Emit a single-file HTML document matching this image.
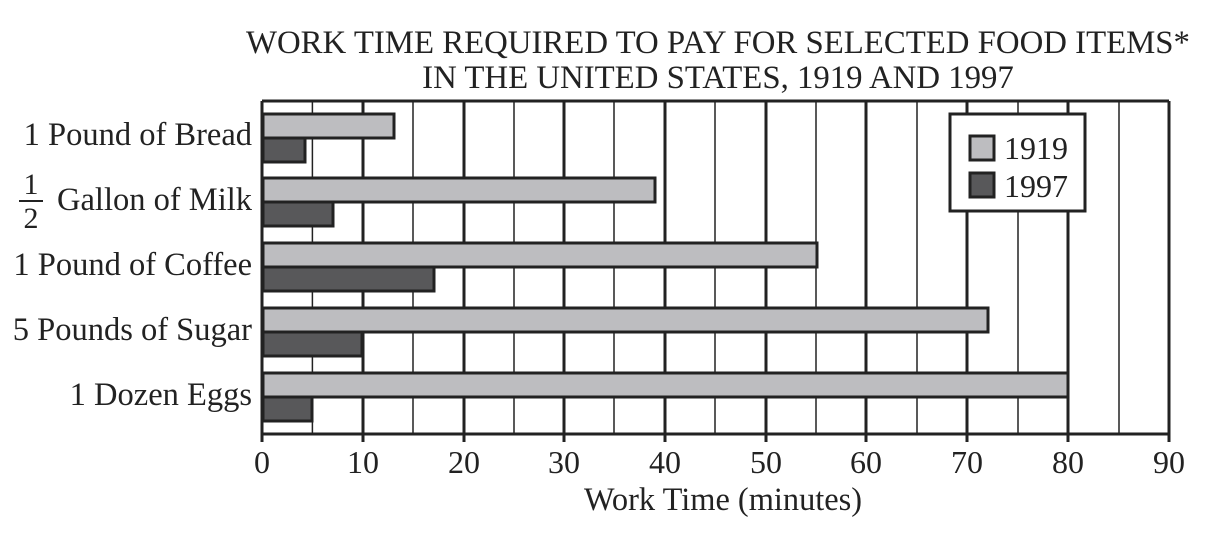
<!DOCTYPE html>
<html><head><meta charset="utf-8"><style>
body{margin:0;background:#fff;}
svg text{font-family:"Liberation Serif",serif;fill:#222;}
</style></head><body>
<svg width="1222" height="546" viewBox="0 0 1222 546" xmlns="http://www.w3.org/2000/svg">
<text x="718" y="53" font-size="32.8" text-anchor="middle">WORK TIME REQUIRED TO PAY FOR SELECTED FOOD ITEMS*</text>
<text x="718" y="88" font-size="32.8" text-anchor="middle">IN THE UNITED STATES, 1919 AND 1997</text>
<g stroke="#222">
<line x1="312.4" y1="101" x2="312.4" y2="434" stroke-width="1.5"/>
<line x1="413" y1="101" x2="413" y2="434" stroke-width="1.5"/>
<line x1="514" y1="101" x2="514" y2="434" stroke-width="1.5"/>
<line x1="614" y1="101" x2="614" y2="434" stroke-width="1.5"/>
<line x1="715" y1="101" x2="715" y2="434" stroke-width="1.5"/>
<line x1="816" y1="101" x2="816" y2="434" stroke-width="1.5"/>
<line x1="917" y1="101" x2="917" y2="434" stroke-width="1.5"/>
<line x1="1018" y1="101" x2="1018" y2="434" stroke-width="1.5"/>
<line x1="1119" y1="101" x2="1119" y2="434" stroke-width="1.5"/>
<line x1="363" y1="101" x2="363" y2="442" stroke-width="3"/>
<line x1="464" y1="101" x2="464" y2="442" stroke-width="3"/>
<line x1="564" y1="101" x2="564" y2="442" stroke-width="3"/>
<line x1="665" y1="101" x2="665" y2="442" stroke-width="3"/>
<line x1="766" y1="101" x2="766" y2="442" stroke-width="3"/>
<line x1="866" y1="101" x2="866" y2="442" stroke-width="3"/>
<line x1="967" y1="101" x2="967" y2="442" stroke-width="3"/>
<line x1="1068" y1="101" x2="1068" y2="442" stroke-width="3"/>
<line x1="1169" y1="101" x2="1169" y2="442" stroke-width="3"/>
<line x1="262" y1="101" x2="262" y2="442" stroke-width="3"/>
<line x1="262" y1="101" x2="1169" y2="101" stroke-width="3"/>
<line x1="262" y1="434" x2="1169" y2="434" stroke-width="3"/>
</g>
<g stroke="#222" stroke-width="3">
<rect x="263" y="114" width="131" height="24" fill="#bdbdc0"/>
<rect x="263" y="138" width="42" height="24" fill="#58585a"/>
<rect x="263" y="178" width="392" height="24" fill="#bdbdc0"/>
<rect x="263" y="202" width="70" height="24" fill="#58585a"/>
<rect x="263" y="243" width="554" height="24" fill="#bdbdc0"/>
<rect x="263" y="267" width="171" height="24" fill="#58585a"/>
<rect x="263" y="308" width="725" height="24" fill="#bdbdc0"/>
<rect x="263" y="332" width="99" height="24" fill="#58585a"/>
<rect x="263" y="373" width="805" height="24" fill="#bdbdc0"/>
<rect x="263" y="397" width="49" height="24" fill="#58585a"/>
<rect x="950" y="114" width="135" height="97" fill="#fff"/>
<rect x="970" y="136" width="24" height="24" fill="#bdbdc0"/>
<rect x="970" y="173" width="24" height="24" fill="#58585a"/>
</g>
<text x="1004" y="159" font-size="32">1919</text>
<text x="1004" y="197" font-size="32">1997</text>
<g font-size="32.5" text-anchor="end">
<text x="252" y="145">1 Pound of Bread</text>
<text x="252" y="210">Gallon of Milk</text>
<text x="252" y="275">1 Pound of Coffee</text>
<text x="252" y="340">5 Pounds of Sugar</text>
<text x="252" y="405">1 Dozen Eggs</text>
</g>
<text x="31" y="194" font-size="30" text-anchor="middle">1</text>
<line x1="19" y1="201" x2="43" y2="201" stroke="#222" stroke-width="2"/>
<text x="31" y="228" font-size="30" text-anchor="middle">2</text>
<g font-size="32" text-anchor="middle">
<text x="262" y="473">0</text><text x="363" y="473">10</text><text x="464" y="473">20</text>
<text x="564" y="473">30</text><text x="665" y="473">40</text><text x="766" y="473">50</text>
<text x="866" y="473">60</text><text x="967" y="473">70</text><text x="1068" y="473">80</text>
<text x="1169" y="473">90</text>
</g>
<text x="723" y="510" font-size="32.4" text-anchor="middle">Work Time (minutes)</text>
</svg>
</body></html>
